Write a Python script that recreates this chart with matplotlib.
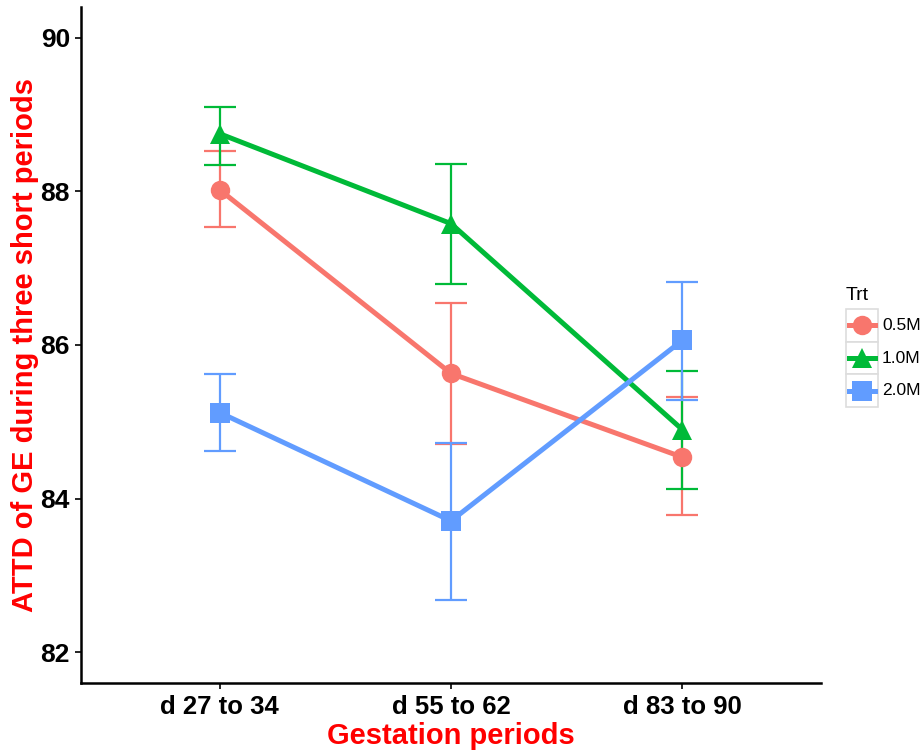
import matplotlib
matplotlib.use("Agg")
import matplotlib.pyplot as plt
from matplotlib.lines import Line2D
from matplotlib.patches import Rectangle

periods = ["d 27 to 34", "d 55 to 62", "d 83 to 90"]
treatments = ["0.5M", "1.0M", "2.0M"]
means = {
    "0.5M": [88.02, 85.63, 84.54],
    "1.0M": [88.75, 87.58, 84.90],
    "2.0M": [85.12, 83.71, 86.06],
}
lower = {
    "0.5M": [87.53, 84.71, 83.79],
    "1.0M": [88.34, 86.79, 84.12],
    "2.0M": [84.62, 82.68, 85.29],
}
upper = {
    "0.5M": [88.53, 86.55, 85.32],
    "1.0M": [89.10, 88.35, 85.66],
    "2.0M": [85.62, 84.73, 86.82],
}
yticks = [82, 84, 86, 88, 90]

colors = {"0.5M": "#F8766D", "1.0M": "#00BA38", "2.0M": "#619CFF"}
markers = {"0.5M": "o", "1.0M": "^", "2.0M": "s"}

plt.rcParams['font.family'] = ['Liberation Sans', 'DejaVu Sans']

fig = plt.figure(figsize=(9.24, 7.55), dpi=100)
ax = fig.add_axes([81/924, 1 - 683/755, (821-81)/924, (683-7)/755])

x = list(range(1, len(periods) + 1))
for t in treatments:
    c = colors[t]
    m = means[t]
    yerr = [[mi - lo for mi, lo in zip(m, lower[t])], [hi - mi for mi, hi in zip(m, upper[t])]]
    ax.errorbar(x, m, yerr=yerr, fmt='none', ecolor=c, elinewidth=1.6, capsize=11.5, capthick=1.6, zorder=2)
for t in treatments:
    ax.plot(x, means[t], color=colors[t], lw=3.6, zorder=3, solid_capstyle='butt')
    ax.plot(x, means[t], linestyle='none', marker=markers[t], ms=14, color=colors[t],
            markeredgewidth=0, zorder=4)

ax.set_xlim(0.4, 3.6)
ax.set_ylim(81.6, 90.4)
ax.set_xticks(x)
ax.set_xticklabels(periods, fontsize=18.5, fontweight='bold')
ax.set_yticks(yticks)
ax.set_yticklabels([str(v) for v in yticks], fontsize=19, fontweight='bold')
for s in ['top', 'right']:
    ax.spines[s].set_visible(False)
for s in ['left', 'bottom']:
    ax.spines[s].set_linewidth(1.8)
ax.tick_params(axis='both', length=4, width=1.2, colors='black')
ax.tick_params(axis='y', pad=4)
ax.tick_params(axis='x', pad=5)
ax.set_xlabel("Gestation periods", fontsize=21, fontweight='bold', color='red', labelpad=2)
ax.set_ylabel("ATTD of GE during three short periods", fontsize=21, fontweight='bold', color='red', labelpad=1)

# legend (ggplot-style keys)
W, H = 924, 755
fig.text(846/W, 1 - 295/H, "Trt", fontsize=14, ha='left', va='center')
key_left, key_w, key_h, key_top = 846, 32, 32.7, 309
for i, t in enumerate(treatments):
    top = key_top + i * key_h
    fig.add_artist(Rectangle((key_left/W, 1 - (top + key_h)/H), key_w/W, key_h/H,
                             transform=fig.transFigure, facecolor='white', edgecolor='#DDDDDD', lw=1.2))
    cy = 1 - (top + key_h/2)/H
    fig.add_artist(Line2D([(key_left+3)/W, (key_left+key_w-3)/W], [cy, cy], transform=fig.transFigure,
                          color=colors[t], lw=3.6))
    fig.add_artist(Line2D([(key_left+key_w/2)/W], [cy], transform=fig.transFigure, marker=markers[t],
                          ms=14, color=colors[t], markeredgewidth=0, linestyle='none'))
    fig.text((key_left+key_w+4)/W, cy, t, fontsize=12.5, ha='left', va='center')

fig.savefig("out.png", dpi=100)
